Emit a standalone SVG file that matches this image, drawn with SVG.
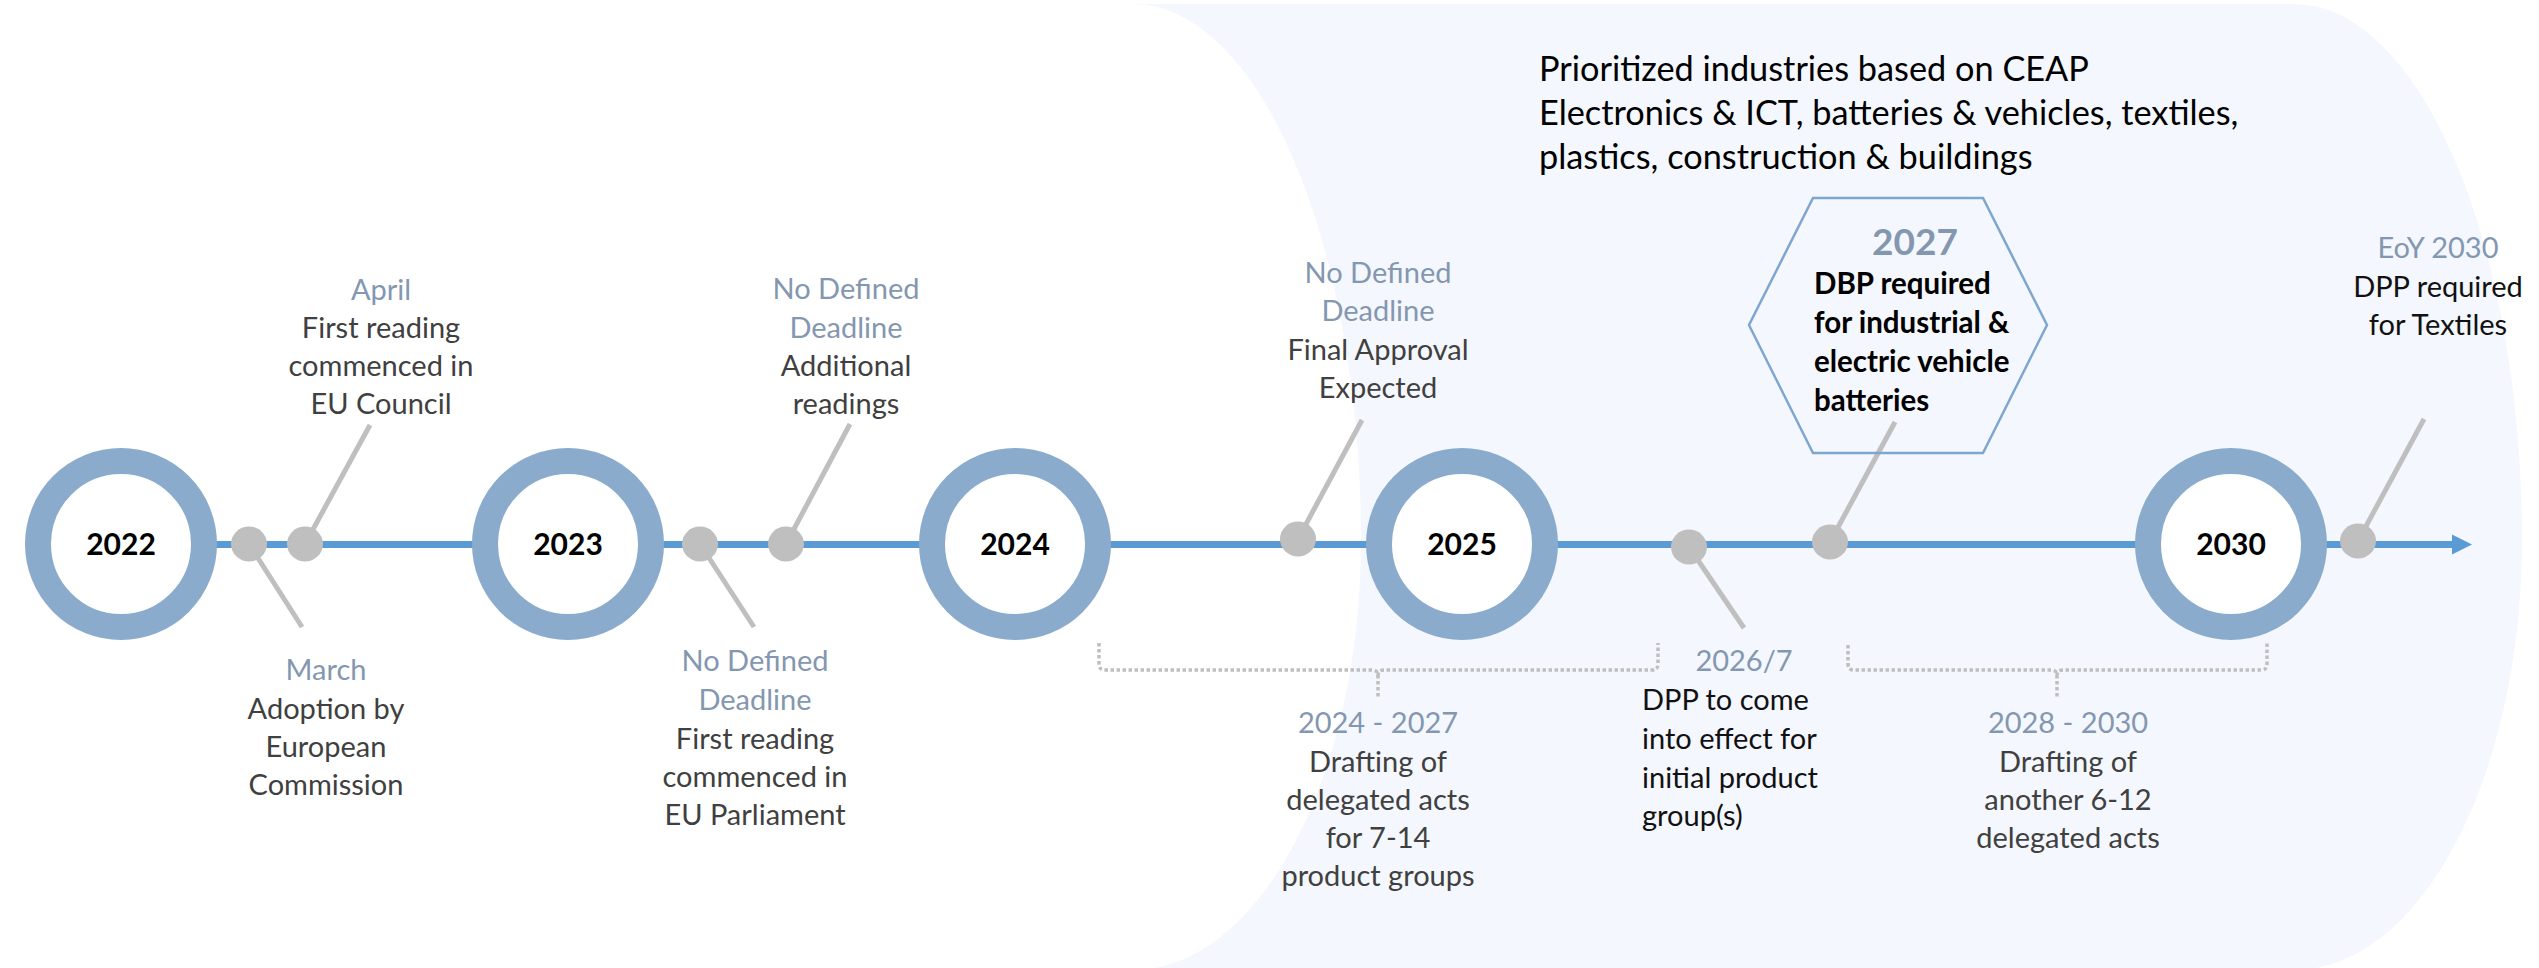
<svg xmlns="http://www.w3.org/2000/svg" width="2539" height="968" viewBox="0 0 2539 968">
  <style>
    text { font-family: Lato, "Liberation Sans", Arial, sans-serif; font-size: 29px; }
    .c { text-anchor: middle; }
    .date { fill: #8497b0; }
    .body { fill: #404040; }
    .dark { fill: #111111; }
    .year { font-weight: bold; fill: #000000; text-anchor: middle; font-size: 30px; }
    .head { font-size: 34.3px; fill: #000000; }
    .hex { font-size: 29.5px; font-weight: bold; fill: #000000; }
    .ring { fill: #ffffff; stroke: #8aabcc; stroke-width: 26; }
    .dot { fill: #bfbfbf; }
    .leader { stroke: #bfbfbf; stroke-width: 5; fill: none; }
    .brace { stroke: #bfbfbf; stroke-width: 3.5; fill: none; stroke-dasharray: 3.5 2.5; }
  </style>

  <rect width="2539" height="968" fill="#ffffff"/>

  <!-- shaded future band -->
  <path id="band" d="M1133,4 L2294,4 A228,536 0 0 1 2522,540 A228,430 0 0 1 2294,970 L1133,970 A228,430 0 0 0 1361,540 A228,536 0 0 0 1133,4 Z" fill="#f4f7fd"/>

  <!-- heading -->
  <g id="heading">
    <text class="head" x="1539" y="81">Prioritized industries based on CEAP</text>
    <text class="head" x="1539" y="125">Electronics &amp; ICT, batteries &amp; vehicles, textiles,</text>
    <text class="head" x="1539" y="169">plastics, construction &amp; buildings</text>
  </g>

  <!-- connectors: axis, leaders, braces -->
  <g id="connectors">
    <line x1="121" y1="544.5" x2="2453" y2="544.5" stroke="#5b9bd5" stroke-width="7"/>
    <polygon points="2452,534.5 2472,544.5 2452,554.5" fill="#5b9bd5"/>
    <line class="leader" x1="249" y1="544" x2="302" y2="627"/>
    <line class="leader" x1="305" y1="544" x2="370" y2="425"/>
    <line class="leader" x1="700" y1="544" x2="754" y2="627"/>
    <line class="leader" x1="786" y1="544" x2="850" y2="424"/>
    <line class="leader" x1="1298" y1="539" x2="1362" y2="420"/>
    <line class="leader" x1="1689" y1="547" x2="1744" y2="628"/>
    <line class="leader" x1="1830" y1="542" x2="1895" y2="422"/>
    <line class="leader" x1="2358" y1="541" x2="2424" y2="419"/>
    <path class="brace" d="M1099,643 L1099,664 Q1099,670 1105,670 L1372,670 Q1378,670 1378,676 L1378,698 M1378,676 Q1378,670 1384,670 L1652,670 Q1658,670 1658,664 L1658,643"/>
    <path class="brace" d="M1848,645 L1848,664 Q1848,670 1854,670 L2051,670 Q2057,670 2057,676 L2057,698 M2057,676 Q2057,670 2063,670 L2261,670 Q2267,670 2267,664 L2267,643"/>
  </g>

  <!-- year milestones -->
  <g id="y2022"><circle class="ring" cx="121" cy="544" r="83"/><text class="year" x="121" y="555">2022</text></g>
  <g id="y2023"><circle class="ring" cx="568" cy="544" r="83"/><text class="year" x="568" y="555">2023</text></g>
  <g id="y2024"><circle class="ring" cx="1015" cy="544" r="83"/><text class="year" x="1015" y="555">2024</text></g>
  <g id="y2025"><circle class="ring" cx="1462" cy="544" r="83"/><text class="year" x="1462" y="555">2025</text></g>
  <g id="y2030"><circle class="ring" cx="2231" cy="544" r="83"/><text class="year" x="2231" y="555">2030</text></g>

  <!-- event markers -->
  <g id="dots">
    <ellipse class="dot" cx="249" cy="544" rx="18" ry="17.5"/>
    <ellipse class="dot" cx="305" cy="544" rx="18" ry="17.5"/>
    <ellipse class="dot" cx="700" cy="544" rx="18" ry="17.5"/>
    <ellipse class="dot" cx="786" cy="544" rx="18" ry="17.5"/>
    <ellipse class="dot" cx="1298" cy="539" rx="18" ry="17.5"/>
    <ellipse class="dot" cx="1689" cy="547" rx="18" ry="17.5"/>
    <ellipse class="dot" cx="1830" cy="542" rx="18" ry="17.5"/>
    <ellipse class="dot" cx="2358" cy="541" rx="18" ry="17.5"/>
  </g>

  <g id="ev-march">
    <text class="c date" x="326" y="680">March</text>
    <text class="c body" x="326" y="719">Adoption by</text>
    <text class="c body" x="326" y="757">European</text>
    <text class="c body" x="326" y="795">Commission</text>
  </g>

  <g id="ev-april">
    <text class="c date" x="381" y="300">April</text>
    <text class="c body" x="381" y="338">First reading</text>
    <text class="c body" x="381" y="376">commenced in</text>
    <text class="c body" x="381" y="414">EU Council</text>
  </g>

  <g id="ev-parliament">
    <text class="c date" x="755" y="671">No Defined</text>
    <text class="c date" x="755" y="710">Deadline</text>
    <text class="c body" x="755" y="749">First reading</text>
    <text class="c body" x="755" y="787">commenced in</text>
    <text class="c body" x="755" y="825">EU Parliament</text>
  </g>

  <g id="ev-readings">
    <text class="c date" x="846" y="299">No Defined</text>
    <text class="c date" x="846" y="338">Deadline</text>
    <text class="c body" x="846" y="376">Additional</text>
    <text class="c body" x="846" y="414">readings</text>
  </g>

  <g id="ev-approval">
    <text class="c date" x="1378" y="283">No Defined</text>
    <text class="c date" x="1378" y="321">Deadline</text>
    <text class="c body" x="1378" y="360">Final Approval</text>
    <text class="c body" x="1378" y="398">Expected</text>
  </g>

  <g id="span-2024-2027">
    <text class="c date" x="1378" y="733">2024 - 2027</text>
    <text class="c body" x="1378" y="772">Drafting of</text>
    <text class="c body" x="1378" y="810">delegated acts</text>
    <text class="c body" x="1378" y="848">for 7-14</text>
    <text class="c body" x="1378" y="886">product groups</text>
  </g>

  <g id="ev-2026">
    <text class="c date" x="1744" y="671">2026/7</text>
    <text class="dark" x="1642" y="710">DPP to come</text>
    <text class="dark" x="1642" y="749">into effect for</text>
    <text class="dark" x="1642" y="788">initial product</text>
    <text class="dark" x="1642" y="826">group(s)</text>
  </g>

  <g id="ev-2027">
    <polygon points="1813,198 1983,198 2047,325 1983,453 1813,453 1749,325" fill="none" stroke="#7ea6cf" stroke-width="2.5"/>
    <text class="c" x="1915" y="255" style="font-size:37px;font-weight:bold" fill="#8497b0">2027</text>
    <text class="hex" x="1814" y="294">DBP required</text>
    <text class="hex" x="1814" y="333">for industrial &amp;</text>
    <text class="hex" x="1814" y="372">electric vehicle</text>
    <text class="hex" x="1814" y="411">batteries</text>
  </g>

  <g id="span-2028-2030">
    <text class="c date" x="2068" y="733">2028 - 2030</text>
    <text class="c body" x="2068" y="772">Drafting of</text>
    <text class="c body" x="2068" y="810">another 6-12</text>
    <text class="c body" x="2068" y="848">delegated acts</text>
  </g>

  <g id="ev-textiles">
    <text class="c date" x="2438" y="258">EoY 2030</text>
    <text class="c dark" x="2438" y="297">DPP required</text>
    <text class="c dark" x="2438" y="335">for Textiles</text>
  </g>
</svg>
